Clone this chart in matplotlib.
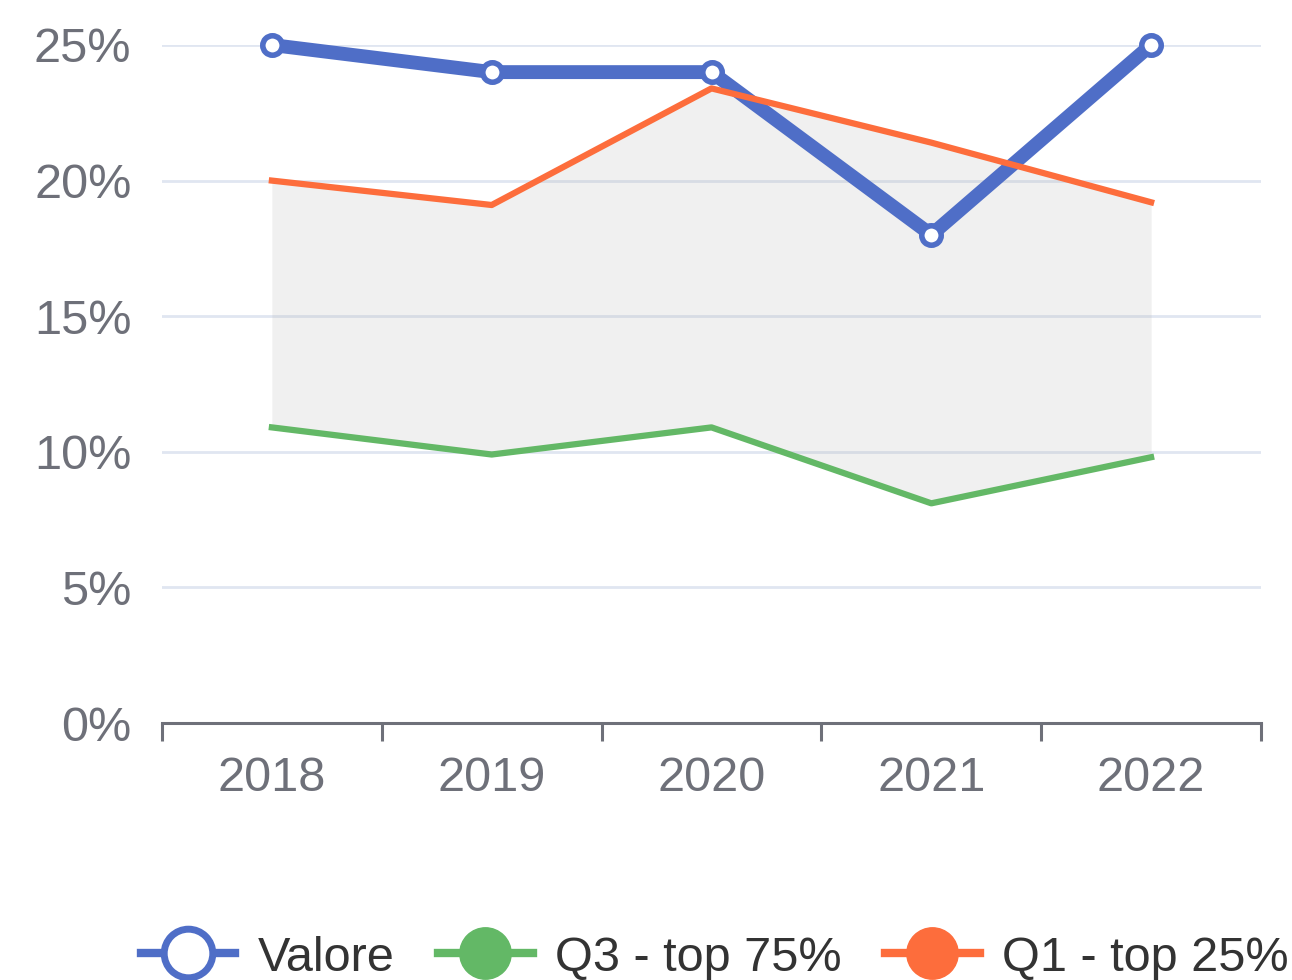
import matplotlib.pyplot as plt
from matplotlib.lines import Line2D
from matplotlib.ticker import FixedLocator, FuncFormatter

plt.rcParams['font.family'] = ['Liberation Sans', 'DejaVu Sans']

# data (percent)
years = ['2018', '2019', '2020', '2021', '2022']
valore = [25.0, 24.0, 24.0, 18.0, 25.0]
q3_top75 = [10.9, 9.9, 10.9, 8.1, 9.8]
q1_top25 = [20.0, 19.1, 23.4, 21.4, 19.2]

blue = '#4f6ec7'
green = '#63b866'
orange = '#fd6d3c'
axis_col = '#6e7079'
grid_col = '#e0e6f1'

fig = plt.figure(figsize=(12.92, 9.8), dpi=100)
ax = fig.add_axes([162 / 1292, 257 / 980, (1261 - 162) / 1292, (723 - 45) / 980])

x = list(range(len(years)))

# band between the quartiles
ax.fill_between(x, q3_top75, q1_top25, color='#b4b4b4', alpha=0.2, lw=0, zorder=2)

ax.plot(x, valore, color=blue, lw=10, marker='o', ms=14, mfc='white',
        mec=blue, mew=4, solid_joinstyle='round', zorder=3, clip_on=False)
ax.plot(x, q3_top75, color=green, lw=4.5, zorder=4)
ax.plot(x, q1_top25, color=orange, lw=4.5, zorder=5)

ax.set_xlim(-0.5, len(years) - 0.5)
ax.set_ylim(0, 25)

ax.set_yticks([0, 5, 10, 15, 20, 25])
ax.yaxis.set_major_formatter(FuncFormatter(lambda v, p: f'{v:.0f}%'))
ax.grid(axis='y', color=grid_col, lw=2, zorder=0)
ax.set_axisbelow(True)

ax.set_xticks(x)
ax.set_xticklabels(years)
ax.xaxis.set_minor_locator(FixedLocator([i - 0.5 for i in range(len(years) + 1)]))

ax.tick_params(axis='y', length=0, pad=22, labelsize=35, labelcolor=axis_col)
ax.tick_params(axis='x', which='major', length=0, pad=24, labelsize=35, labelcolor=axis_col)
ax.tick_params(axis='x', which='minor', length=13, width=2.2, color=axis_col, direction='out')

for s in ['top', 'right', 'left']:
    ax.spines[s].set_visible(False)
ax.spines['bottom'].set_color(axis_col)
ax.spines['bottom'].set_linewidth(2.2)
ax.spines['bottom'].set_zorder(6)

handles = [
    Line2D([], [], color=blue, lw=6, marker='o', ms=35, mfc='white', mec=blue, mew=5),
    Line2D([], [], color=green, lw=6, marker='o', ms=37, mfc=green, mec=green),
    Line2D([], [], color=orange, lw=6, marker='o', ms=37, mfc=orange, mec=orange),
]
labels = ['Valore', 'Q3 - top 75%', 'Q1 - top 25%']
fig.legend(handles, labels, loc='center', bbox_to_anchor=(0.553, 1 - 958 / 980),
           ncol=3, frameon=False, fontsize=35, handlelength=1.95, handletextpad=0.45,
           columnspacing=0.9, borderpad=0, labelcolor='#333333')

fig.savefig('out.png', dpi=100)
